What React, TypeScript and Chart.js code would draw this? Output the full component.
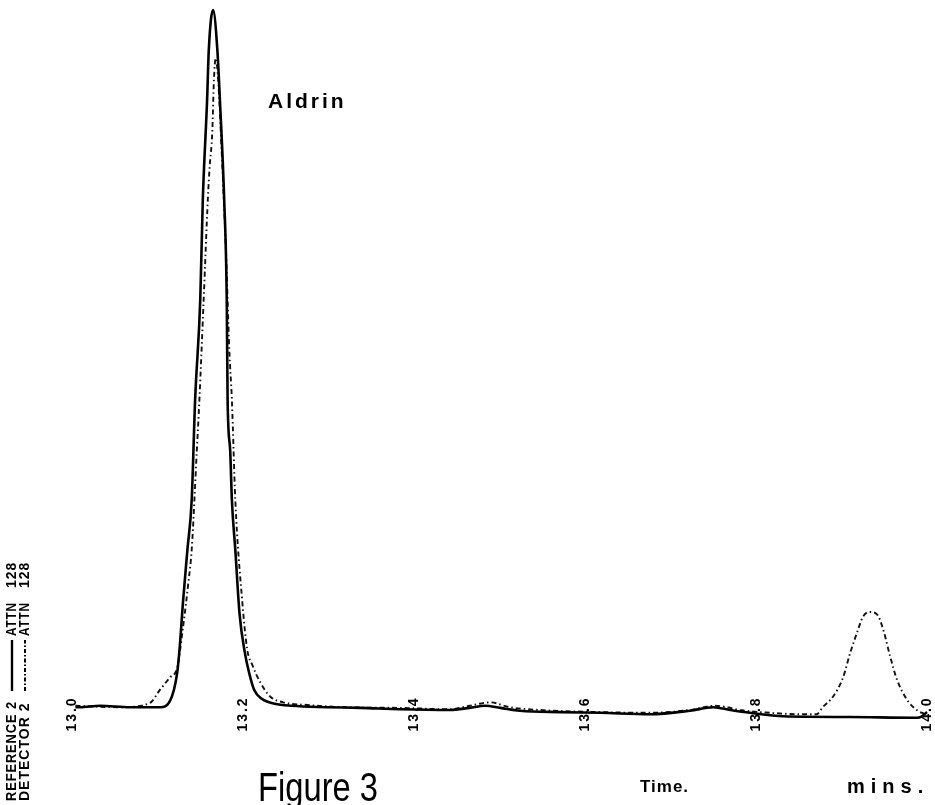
import React, { useEffect, useRef } from "react";
import { Chart, registerables } from "chart.js";

Chart.register(...registerables);

// ---- DATA ----
// Reference channel (solid line): retention time (min) and response (% of Aldrin peak)
const refTime = [
  13.004, 13.009, 13.033, 13.068, 13.103, 13.115, 13.123, 13.126, 13.13, 13.135,
  13.14, 13.144, 13.15, 13.153, 13.158, 13.16, 13.165, 13.17, 13.173, 13.178,
  13.181, 13.182, 13.185, 13.187, 13.191, 13.196, 13.202, 13.207, 13.213, 13.222,
  13.237, 13.257, 13.298, 13.337, 13.384, 13.442, 13.465, 13.483, 13.501, 13.524,
  13.571, 13.618, 13.676, 13.723, 13.75, 13.77, 13.793, 13.832, 13.91, 13.988,
  13.994, 14.0,
];
const refSignal = [
  0.4, 0.4, 0.6, 0.4, 0.4, 1.4, 5.3, 9.0, 15.7, 22.9,
  30.0, 44.3, 58.6, 72.9, 87.1, 94.3, 100.0, 94.3, 87.1, 72.9,
  58.6, 44.3, 37.1, 30.0, 22.9, 13.7, 8.3, 5.4, 2.9, 1.6,
  0.9, 0.6, 0.4, 0.3, 0.1, 0.0, 0.3, 0.6, 0.3, -0.1,
  -0.3, -0.4, -0.6, -0.1, 0.4, 0.0, -0.4, -0.9, -1.0, -1.1,
  -0.9, -0.3,
];

// Detector channel (dash-dot line)
const detTime = [
  13.004, 13.056, 13.091, 13.103, 13.115, 13.123, 13.129, 13.136, 13.14, 13.146,
  13.149, 13.154, 13.159, 13.161, 13.164, 13.166, 13.168, 13.171, 13.175, 13.18,
  13.184, 13.187, 13.191, 13.199, 13.205, 13.211, 13.22, 13.232, 13.247, 13.278,
  13.317, 13.384, 13.442, 13.465, 13.489, 13.512, 13.547, 13.618, 13.676, 13.723,
  13.752, 13.766, 13.781, 13.816, 13.851, 13.871, 13.878, 13.89, 13.902, 13.91,
  13.918, 13.925, 13.933, 13.942, 13.949, 13.957, 13.965, 13.977, 13.988, 14.0,
];
const detSignal = [
  0.6, 0.4, 1.0, 2.9, 4.7, 6.0, 11.0, 18.1, 22.9, 37.1,
  44.3, 58.6, 73.3, 77.6, 82.4, 90.0, 93.1, 90.0, 80.0, 65.7,
  51.4, 44.3, 30.0, 15.7, 8.6, 6.4, 4.0, 1.9, 1.1, 0.7,
  0.4, 0.3, 0.1, 0.6, 1.1, 0.4, 0.0, -0.3, -0.4, 0.0,
  0.6, 0.4, 0.0, -0.4, -0.6, -0.6, 0.4, 1.9, 4.7, 8.1,
  11.0, 13.3, 14.0, 13.6, 11.4, 7.6, 4.3, 1.4, 0.0, -0.7,
];

const tickValues = [13.0, 13.2, 13.4, 13.6, 13.8, 14.0];
const tickLabels = ["13.0", "13.2", "13.4", "13.6", "13.8", "14.0"];

const peakLabel = "Aldrin";
const figureTitle = "Figure 3";
const axisWord = "Time.";
const unitWord = "mins.";
const legendRef = ["REFERENCE 2", "ATTN", "128"];
const legendDet = ["DETECTOR 2", "ATTN", "128"];

const decorPlugin = {
  id: "decor",
  afterDraw(chart: any) {
    const ctx = chart.ctx as CanvasRenderingContext2D;
    const xs = chart.scales.x;
    const ys = chart.scales.y;
    ctx.save();
    ctx.fillStyle = "#000";
    ctx.strokeStyle = "#000";

    // tick labels, rotated, straddling the baseline
    ctx.font = "bold 14px 'Liberation Sans', Arial, sans-serif";
    (ctx as any).letterSpacing = "2px";
    ctx.textAlign = "center";
    ctx.textBaseline = "middle";
    const baseY = ys.getPixelForValue(0) + 4;
    tickValues.forEach((v, i) => {
      const px = xs.getPixelForValue(v);
      ctx.save();
      ctx.translate(px, baseY);
      ctx.rotate(-Math.PI / 2);
      ctx.fillText(tickLabels[i], 0, 0, 44);
      ctx.restore();
    });
    (ctx as any).letterSpacing = "0px";

    // peak label
    ctx.textAlign = "left";
    ctx.textBaseline = "alphabetic";
    ctx.font = "bold 21px 'Liberation Sans', Arial, sans-serif";
    (ctx as any).letterSpacing = "3px";
    ctx.fillText(peakLabel, 268, 108);
    (ctx as any).letterSpacing = "0px";

    // figure title
    ctx.font = "40px 'Liberation Sans', Arial, sans-serif";
    ctx.fillText(figureTitle, 258, 801, 120);

    // axis words
    ctx.font = "bold 17px 'Liberation Sans', Arial, sans-serif";
    (ctx as any).letterSpacing = "1px";
    ctx.fillText(axisWord, 640, 792, 52);
    (ctx as any).letterSpacing = "6px";
    ctx.font = "bold 20px 'Liberation Sans', Arial, sans-serif";
    ctx.fillText(unitWord, 847, 793, 90);
    (ctx as any).letterSpacing = "0px";

    // vertical legend on the left edge
    const drawLegend = (x: number, words: string[], dashed: boolean) => {
      ctx.font = "bold 14px 'Liberation Sans', Arial, sans-serif";
      ctx.textBaseline = "middle";
      ctx.textAlign = "left";
      ctx.save();
      ctx.translate(x, 801);
      ctx.rotate(-Math.PI / 2);
      (ctx as any).letterSpacing = "1px";
      ctx.fillText(words[0], 0, 0, 100);
      ctx.lineWidth = dashed ? 2 : 2.4;
      ctx.setLineDash(dashed ? [4, 2, 1.5, 2] : []);
      ctx.beginPath();
      ctx.moveTo(110, 0);
      ctx.lineTo(161, 0);
      ctx.stroke();
      ctx.setLineDash([]);
      ctx.fillText(words[1], 165, 0, 34);
      ctx.fillText(words[2], 213, 0, 28);
      (ctx as any).letterSpacing = "0px";
      ctx.restore();
    };
    drawLegend(12, legendRef, false);
    drawLegend(25, legendDet, true);

    ctx.restore();
  },
};

export default function App() {
  const canvasRef = useRef<HTMLCanvasElement | null>(null);

  useEffect(() => {
    const canvas = canvasRef.current;
    if (!canvas) return;
    const chart = new Chart(canvas, {
      type: "line",
      data: {
        datasets: [
          {
            label: "Reference 2",
            data: refTime.map((t, i) => ({ x: t, y: refSignal[i] })),
            borderColor: "#000",
            borderWidth: 2.6,
            pointRadius: 0,
            cubicInterpolationMode: "monotone",
            clip: false as any,
          },
          {
            label: "Detector 2",
            data: detTime.map((t, i) => ({ x: t, y: detSignal[i] })),
            borderColor: "#111",
            borderWidth: 1.9,
            borderDash: [5, 3, 1.5, 3],
            pointRadius: 0,
            cubicInterpolationMode: "monotone",
            clip: false as any,
          },
        ],
      },
      options: {
        responsive: false,
        animation: false,
        devicePixelRatio: 1,
        layout: { padding: { left: 72, right: 8, top: 10, bottom: 81 } },
        plugins: {
          legend: { display: false },
          tooltip: { enabled: false },
          title: { display: false },
        },
        scales: {
          x: { type: "linear", min: 13.0, max: 14.0, display: false },
          y: { type: "linear", min: -2, max: 100, display: false },
        },
      },
      plugins: [decorPlugin],
    });
    return () => chart.destroy();
  }, []);

  return (
    <div style={{ position: "absolute", left: 0, top: 0, width: 935, height: 805, background: "#fff" }}>
      <canvas ref={canvasRef} width={935} height={805} style={{ display: "block" }} />
    </div>
  );
}
